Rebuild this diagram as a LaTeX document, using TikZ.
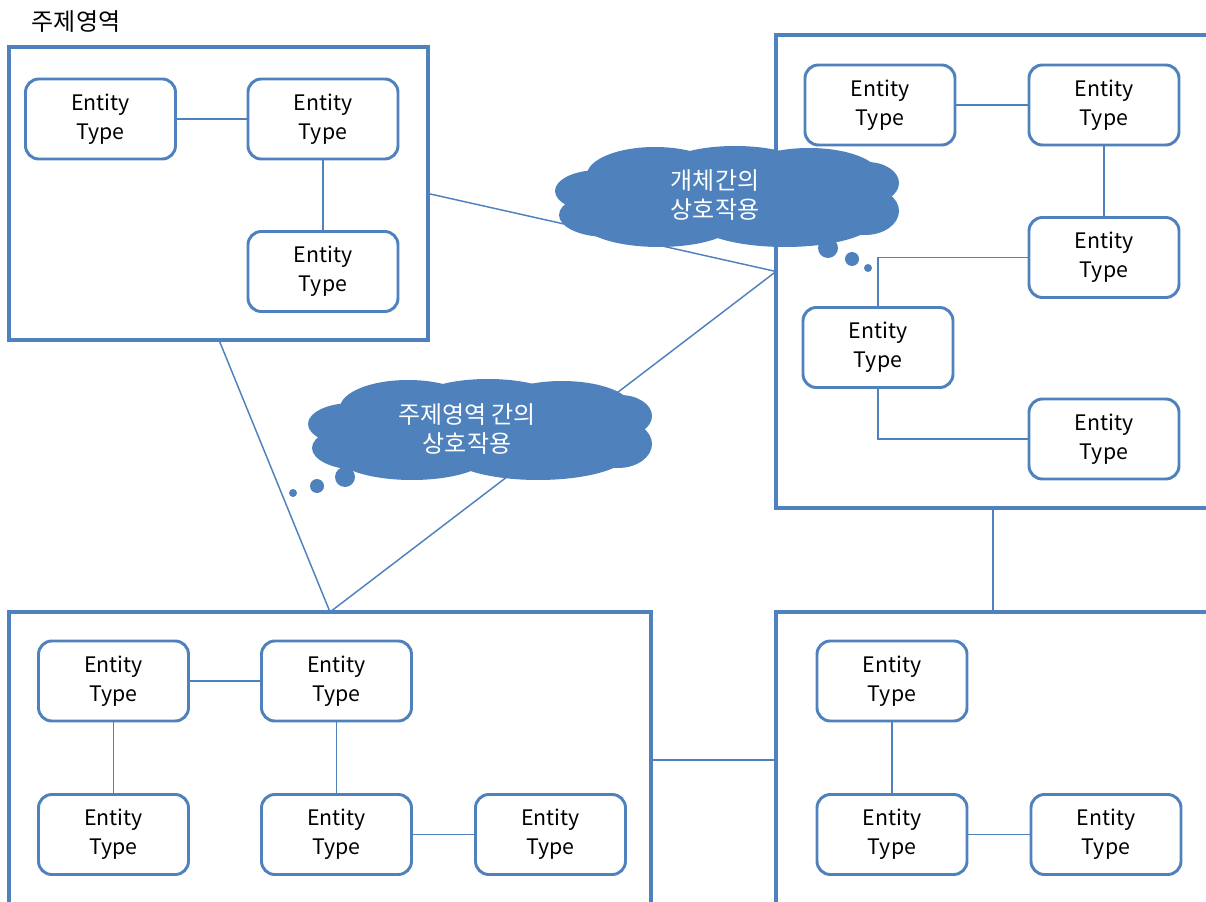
\documentclass[tikz,border=0pt]{standalone}
\usepackage{fontspec}
\setmainfont{Noto Sans CJK KR}
\usetikzlibrary{calc}
\definecolor{obl}{HTML}{4F81BD}
\newcommand\officecloud[1]{%
  \begin{scope}[shift={#1}]
    \fill[obl] (0,0) ellipse [x radius=145, y radius=40];
    \fill[obl] (-128,-6) ellipse [x radius=44, y radius=21];
    \fill[obl] (-120,18) ellipse [x radius=48, y radius=22];
    \fill[obl] (-72,-22) ellipse [x radius=68, y radius=28];
    \fill[obl] (8,-30) ellipse [x radius=70, y radius=21];
    \fill[obl] (82,-22) ellipse [x radius=70, y radius=27];
    \fill[obl] (140,-14) ellipse [x radius=32, y radius=21];
    \fill[obl] (138,14) ellipse [x radius=34, y radius=24];
    \fill[obl] (-68,24) ellipse [x radius=78, y radius=26];
    \fill[obl] (58,22) ellipse [x radius=92, y radius=28];
  \end{scope}}
\begin{document}
\begin{tikzpicture}[x=0.75pt,y=-0.75pt,
  area/.style={draw=obl, line width=2.3pt, inner sep=0pt, outer sep=0pt},
  ent/.style={draw=obl, line width=2.2pt, rounded corners=10pt, minimum width=112.5pt, minimum height=60pt, inner sep=0pt, outer sep=0pt, align=center, font=\fontsize{16}{21.75}\selectfont, text=black},
  link/.style={draw=obl, line width=1.1pt},
  thoughttext/.style={text=white, align=center, inner sep=0pt, font=\fontsize{18}{21.5}\selectfont},
  bubble/.style={fill=obl, draw=none},
]
\useasboundingbox (0,0) rectangle (1206,902);
\clip (0,0) rectangle (1206,902);

% subject areas
\node[area, minimum width=314.25pt, minimum height=219.75pt] (TL) at (218.5,193.5) {};
\node[area, minimum width=329.25pt, minimum height=354.75pt] (TR) at (995.5,271.5) {};
\node[area, minimum width=481.5pt, minimum height=222pt] (BL) at (330,760) {};
\node[area, minimum width=329.25pt, minimum height=222pt] (BR) at (995.5,760) {};

\node[font=\fontsize{18}{20}\selectfont, text=black] (title) at (76,22) {주제영역};

% connectors between areas
\coordinate (tlb) at ($(TL.south west)+(210,0)$);
\coordinate (blt) at ($(BL.north west)+(321,0)$);
\draw[link] (TL.east) -- (TR.west);
\draw[link] (tlb) -- (blt);
\draw[link] (blt) -- (TR.west);
\draw[link] (TR.south -| 993,0) -- (BR.north -| 993,0);
\draw[link] (BL.east) -- (BR.west);

% entities top-left
\node[ent] (e1) at (100.5,119) {Entity\\Type};
\node[ent] (e2) at (323,119) {Entity\\Type};
\node[ent] (e3) at (323,271.5) {Entity\\Type};
\draw[link] (e1) -- (e2);
\draw[link] (e2) -- (e3);

% entities top-right
\node[ent] (a) at (880,105) {Entity\\Type};
\node[ent] (b) at (1104,105) {Entity\\Type};
\node[ent] (c) at (1104,257.5) {Entity\\Type};
\node[ent] (d) at (878,347.5) {Entity\\Type};
\node[ent] (e) at (1104,439) {Entity\\Type};
\draw[link] (a) -- (b);
\draw[link] (b) -- (c);
\draw[link] (c.west) -| (d.north);
\draw[link] (d.south) |- (e.west);

% entities bottom-left
\node[ent] (f1) at (113.5,681) {Entity\\Type};
\node[ent] (f2) at (336.5,681) {Entity\\Type};
\node[ent] (f3) at (113.5,834.5) {Entity\\Type};
\node[ent] (f4) at (336.5,834.5) {Entity\\Type};
\node[ent] (f5) at (550.5,834.5) {Entity\\Type};
\draw[link] (f1) -- (f2);
\draw[link] (f1) -- (f3);
\draw[link] (f2) -- (f4);
\draw[link] (f4) -- (f5);

% entities bottom-right
\node[ent] (g1) at (892,681) {Entity\\Type};
\node[ent] (g2) at (892,834.5) {Entity\\Type};
\node[ent] (g3) at (1106,834.5) {Entity\\Type};
\draw[link] (g1) -- (g2);
\draw[link] (g2) -- (g3);

% clouds
\officecloud{(727,197)}
\node[thoughttext] (c1) at (715,195) {개체간의\\상호작용};
\fill[bubble] (828,248) circle (10);
\fill[bubble] (852,259) circle (7);
\fill[bubble] (868,268) circle (4);

\officecloud{(480,430)}
\node[thoughttext] (c2) at (467,429) {주제영역 간의\\상호작용};
\fill[bubble] (345,477) circle (10);
\fill[bubble] (317,486) circle (7);
\fill[bubble] (293,493) circle (4);
\end{tikzpicture}
\end{document}
